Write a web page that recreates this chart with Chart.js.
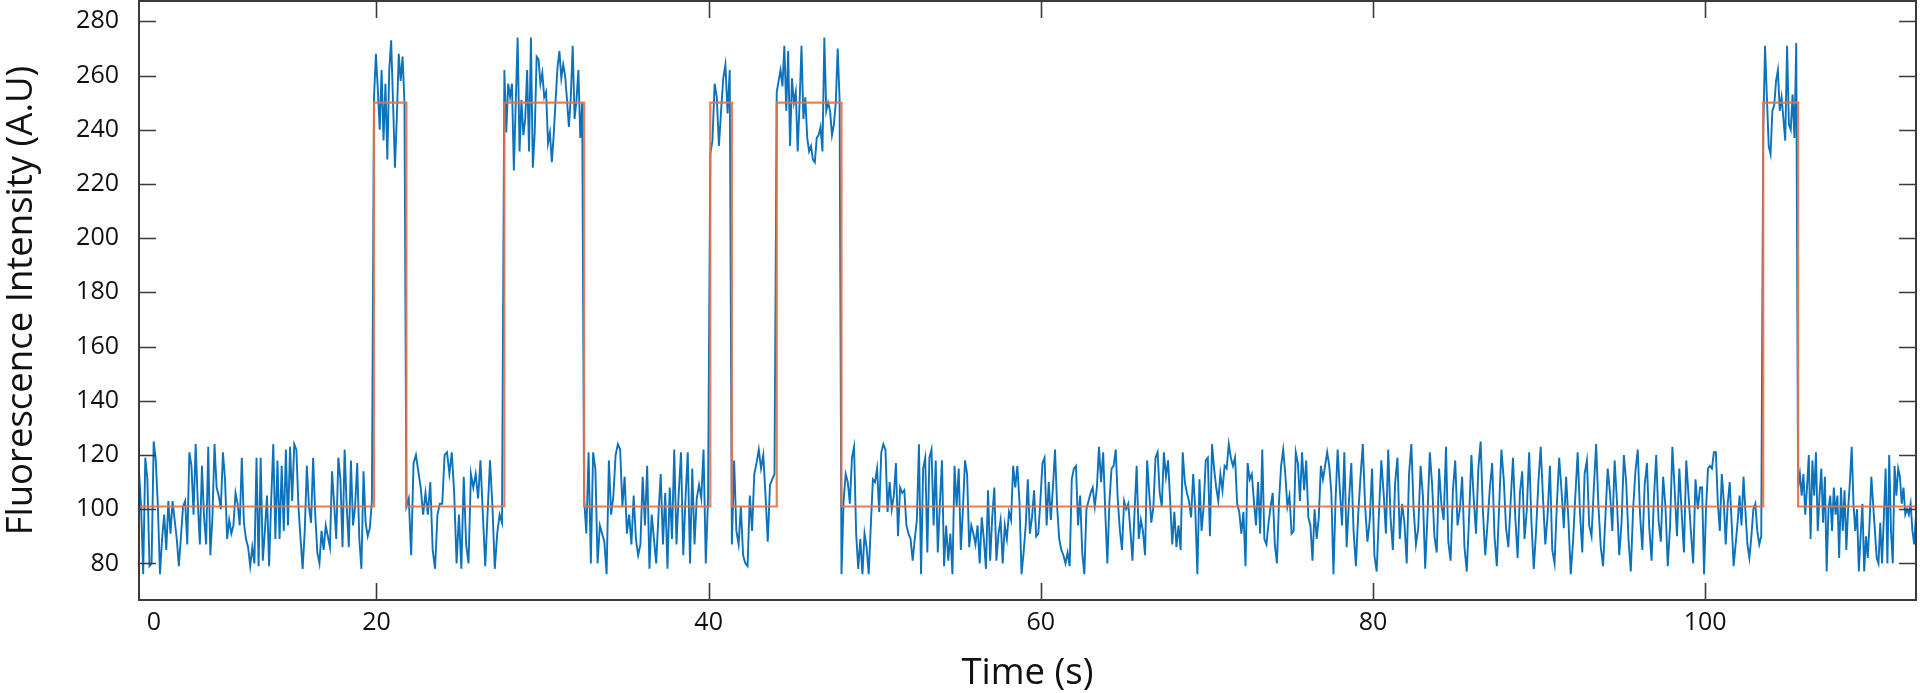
<!DOCTYPE html>
<html>
<head>
<meta charset="utf-8">
<script src="https://cdn.jsdelivr.net/npm/chart.js@4.4.1/dist/chart.umd.min.js"></script>
<style>
html,body{margin:0;padding:0;background:#fff;}
#wrap{width:1920px;height:693px;position:relative;}
</style>
</head>
<body>
<div id="wrap"><canvas id="c"></canvas></div>
<script>
// switching times (s) of the fitted two-state model, and its level after each switch
const stepTimes  = [5.7, 19.85, 21.8, 27.7, 32.5, 40.1, 41.4, 44.1, 48.0, 103.5, 105.6, 112.7];
const stepLevels = [101, 250, 101, 250, 101, 250, 101, 250, 101, 250, 101, 101];

// raw trace, one array per stretch between segTimes
const segTimes = [5.7, 19.85, 21.8, 27.7, 32.5, 40.1, 41.4, 44.1, 48.0, 78.0, 99.7, 103.5, 105.6, 112.7];
const baseA = [114,101,76,119,111,79,80,125,118,101,76,89,98,85,103,91,103,96,89,79,90,101,103,87,121,116,98,124,103,87,116,97,87,123,83,97,124,108,105,100,121,111,89,96,91,94,106,102,94,119,95,89,86,79,86,80,119,79,119,81,92,105,79,103,124,89,118,89,116,92,122,94,123,103,124,122,101,89,78,92,116,101,95,119,98,84,80,92,85,94,90,86,114,102,89,119,111,86,122,101,86,118,94,101,117,89,78,114,95,90,93,103];
const high1 = [252,268,255,240,262,236,257,229,262,273,250,226,245,268,258,267,250];
const baseB = [101,104,83,117,120,114,108,98,106,98,110,85,78,98,102,102,120,121,113,121,106,80,98,78,112,87,80,113,108,113,104,118,98,79,99,118,101,78,91,98,95];
const high2 = [262,239,257,252,257,225,250,274,232,251,238,244,262,232,274,226,239,267,266,257,261,252,254,235,239,228,238,251,263,269,259,264,260,251,241,252,271,244,251,262,237,250];
const baseC = [104,91,121,80,121,115,80,94,91,88,76,118,98,105,120,124,122,101,112,91,98,87,105,89,83,87,112,94,116,78,98,89,80,98,113,87,106,78,108,89,122,87,106,121,83,104,121,80,115,87,104,109,104,122,80,104];
const high3 = [231,236,257,252,234,247,259,264,246,262];
const baseD = [87,118,92,87,101,83,80,79,105,92,113,117,122,115,120,105,88,109,111,113];
const high4 = [254,258,262,256,271,247,269,234,259,250,254,232,250,271,244,252,237,232,234,229,228,237,238,241,232,274,247,250,247,238,242,250,270,251];
const baseE1 = [76,103,113,110,102,119,123,91,78,89,76,91,86,76,94,111,110,115,99,121,124,122,99,110,100,105,117,90,108,106,107,94,91,89,81,89,96,124,76,115,119,84,119,122,94,118,84,102,118,79,94,81,91,76,116,101,115,85,100,118,113,86,94,91,87,94,80,97,89,78,107,81,97,108,81,91,96,80,94,89,99,96,116,108,116,103,76,84,94,111,91,97,107,90,91,103,117,119,94,110,96,108,122,101,89,85,83,80,84,79,111,115,116,94,105,84,76,100,103,106,108,101,108,123,110,121,99,80,103,115,116,122,103,92,85,103,100,102,92,81,99,116,89,96,92,83,118,106,95,101,119,121,106,101,121,112,118,103,87,99,86,94,85,121,110,106,103,97,113,100,76,111,92,101,118,119,90,124,115,108,103,113,107,116,115,124,119,116,119,102,99,91,99,79,117,111,113,103,94,110,91,122,89,87,95,101,106,87,80,103,116,122,113,101,105,91,92,121,117,103,121,107,118,97,94,81,100,89,97,116,111,116,121,116,106,76,103,122];
const baseE2 = [108,94,121,86,103,117,92,79,98,112,124,101,88,96,115,83,77,99,118,106,91,122,97,85,110,119,89,102,95,80,113,124,100,87,93,116,105,78,98,121,109,90,84,115,102,96,123,88,81,107,118,94,100,112,86,77,97,120,104,91,115,125,99,83,95,108,117,90,79,101,122,111,93,86,103,119,97,82,106,114,89,100,121,95,78,92,110,123,104,87,98,116,85,80,102,119,107,93,112,96,76,88,105,121,99,84,113,118,94,90,108,124,101,86,79,97,115,106,92,118,103,83,95,120,110,89,77,100,114,122,98,85,109,117,93,81,104,120,96,88,112,101,79,94,123,107,90,115,99,84,118,105,92,80,111,100];
const baseE3 = [108,108,76,100,115,116,115,121,121,102,92,113,103,87,102,110,95,79,87,95,105,94,112,99,87,82,90,100,102,92,87,90];
const high5 = [239,271,252,234,231,247,249,258,262,247,252,244,236,271,242,240,253,237,272];
const baseF = [108,113,105,113,98,108,120,89,118,105,121,92,105,115,95,112,77,100,105,92,108,98,105,82,108,92,107,85,100,110,123,102,92,100,77,90,102,77,90,82,95,112,102,92,82,80,95,80,97,115,80,120,92,80,116,105,115,112,102,108,98,100,98,102,92,87,98];
const segValues = [baseA, high1, baseB, high2, baseC, high3, baseD, high4, baseE1, baseE2, baseE3, high5, baseF];

const yTicks = [80, 100, 120, 140, 160, 180, 200, 220, 240, 260, 280];
const xTickValues = [6.6, 20, 40, 60, 80, 100];
const xTickLabels = ['0', '20', '40', '60', '80', '100'];
const xTickMarks = [20, 40, 60, 80, 100];

// samples are evenly spread inside each stretch
const trace = [];
segValues.forEach((vals, k) => {
  const t0 = segTimes[k], t1 = segTimes[k + 1];
  const last = k === segValues.length - 1;
  const n = last ? vals.length - 1 : vals.length;
  vals.forEach((v, i) => trace.push({x: t0 + (t1 - t0) * i / n, y: v}));
});
const steps = stepTimes.map((t, i) => ({x: t, y: stepLevels[i]}));

const frame = {
  id: 'frame',
  afterDatasetsDraw(chart){
    const {ctx, chartArea: a, scales: {x, y}} = chart;
    ctx.save();
    ctx.strokeStyle = '#3a3a3a';
    ctx.lineWidth = 2;
    ctx.strokeRect(a.left, a.top, a.right - a.left, a.bottom - a.top);
    ctx.lineWidth = 1.6;
    ctx.beginPath();
    y.ticks.forEach(t => {
      const py = Math.round(y.getPixelForValue(t.value)) + 0.5;
      ctx.moveTo(a.left, py); ctx.lineTo(a.left + 17, py);
      ctx.moveTo(a.right, py); ctx.lineTo(a.right - 17, py);
    });
    x.ticks.forEach(t => {
      if (!xTickMarks.includes(t.value)) return;
      const px = Math.round(x.getPixelForValue(t.value)) + 0.5;
      ctx.moveTo(px, a.bottom); ctx.lineTo(px, a.bottom - 17);
      ctx.moveTo(px, a.top); ctx.lineTo(px, a.top + 17);
    });
    ctx.stroke();
    ctx.restore();
  }
};

const tickFont = {family: "'Open Sans', sans-serif", size: 25};
const titleFont = {family: "'Open Sans', sans-serif", size: 36.5, lineHeight: 1.0};

new Chart(document.getElementById('c'), {
  type: 'line',
  data: {
    datasets: [
      {data: steps, stepped: true, borderColor: 'rgba(232,112,70,0.9)', borderWidth: 2.2, pointRadius: 0, order: 0},
      {data: trace, borderColor: '#0b72bb', borderWidth: 1.9, pointRadius: 0, tension: 0, order: 1}
    ]
  },
  options: {
    responsive: true,
    maintainAspectRatio: false,
    animation: false,
    layout: {padding: {top: 1, right: 4, left: 0, bottom: 0}},
    plugins: {legend: {display: false}, tooltip: {enabled: false}},
    scales: {
      x: {
        type: 'linear', min: 5.7, max: 112.7,
        grid: {display: false, drawTicks: false},
        border: {display: false},
        afterBuildTicks: s => { s.ticks = xTickValues.map(v => ({value: v})); },
        afterFit: s => { s.height = 93; s.paddingLeft = 0; s.paddingRight = 0; },
        ticks: {
          font: tickFont, color: '#111', padding: 8, maxRotation: 0, autoSkip: false,
          callback: (v) => xTickLabels[xTickValues.indexOf(v)]
        },
        title: {display: true, text: 'Time (s)', font: titleFont, color: '#111', padding: {top: 0, bottom: 1}}
      },
      y: {
        type: 'linear', min: 66.5, max: 287.5,
        grid: {display: false, drawTicks: false},
        border: {display: false},
        afterBuildTicks: s => { s.ticks = yTicks.map(v => ({value: v})); },
        afterFit: s => { s.width = 139; s.paddingTop = 0; s.paddingBottom = 0; },
        ticks: {font: tickFont, color: '#111', padding: 20},
        title: {display: true, text: 'Fluorescence Intensity (A.U)', font: titleFont, color: '#111', padding: {top: 3, bottom: 0}}
      }
    }
  },
  plugins: [frame]
});
</script>
</body>
</html>
